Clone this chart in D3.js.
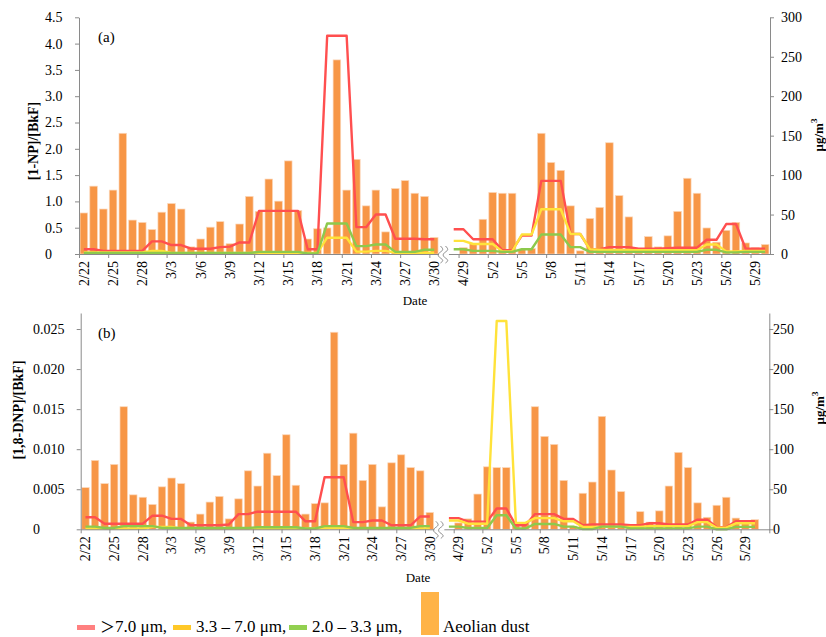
<!DOCTYPE html>
<html>
<head>
<meta charset="utf-8">
<script src="https://cdn.jsdelivr.net/npm/d3@7"></script>
<style>
  body { margin: 0; background: #fff; }
  svg text { fill: #000; }
</style>
</head>
<body>
<svg id="chart" width="826" height="637" font-family="Liberation Serif, DejaVu Serif, serif"></svg>
<script>
// sampling days, two campaigns
const datesLeft = ["2/22","2/23","2/24","2/25","2/26","2/27","2/28","3/1","3/2","3/3","3/4","3/5","3/6","3/7","3/8","3/9","3/10",
  "3/11","3/12","3/13","3/14","3/15","3/16","3/17","3/18","3/19","3/20","3/21","3/22","3/23","3/24","3/25","3/26","3/27","3/28","3/29","3/30"];
const datesRight = ["4/28","4/29","4/30","5/1","5/2","5/3","5/4","5/5","5/6","5/7","5/8","5/9","5/10","5/11","5/12","5/13","5/14",
  "5/15","5/16","5/17","5/18","5/19","5/20","5/21","5/22","5/23","5/24","5/25","5/26","5/27","5/28","5/29","5/30"];

// aeolian dust, ug/m3
const dustLeft = [52,86,57,81,153,43,40,31,53,64,57,9,19,34,41,13,38,73,54,95,67,118,55,19,32,33,246,81,120,61,81,28,83,93,77,73,21];
const dustRight = [null,8,13,44,78,77,77,6,7,153,116,106,61,4,45,59,141,74,47,3,22,9,23,54,96,77,33,15,30,40,14,8,12];

// (a) [1-NP]/[BkF]
const npRedLeft = [0.09,0.09,0.06,0.06,0.06,0.06,0.06,0.24,0.24,0.17,0.17,0.10,0.10,0.10,0.13,0.14,0.22,0.22,0.82,0.82,0.82,0.82,0.82,
  0.09,0.09,4.15,4.15,4.15,0.51,0.51,0.75,0.75,0.29,0.29,0.29,0.28,0.28];
const npRedRight = [0.47,0.47,0.28,0.28,0.28,0.07,0.07,0.35,0.35,1.39,1.39,1.39,0.38,0.38,0.09,0.09,0.13,0.13,0.13,0.10,0.10,0.10,0.11,
  0.12,0.12,0.12,0.27,0.27,0.57,0.57,0.10,0.10,0.10];
const npYellowLeft = [0.03,0.03,0.03,0.03,0.03,0.03,0.03,0.06,0.06,0.02,0.02,0.02,0.02,0.02,0.02,0.02,0.02,0.02,0.02,0.02,0.02,0.02,0.02,
  0.02,0.02,0.31,0.31,0.31,0.045,0.045,0.06,0.06,0.025,0.025,0.025,0.025,0.025];
const npYellowRight = [0.25,0.25,0.19,0.19,0.19,0.05,0.05,0.37,0.37,0.85,0.85,0.85,0.38,0.38,0.09,0.08,0.07,0.07,0.07,0.07,0.07,0.07,0.07,
  0.07,0.07,0.07,0.18,0.18,0.05,0.05,0.06,0.06,0.06];
const npGreenLeft = [0.02,0.02,0.02,0.02,0.02,0.02,0.02,0.02,0.02,0.02,0.02,0.02,0.02,0.02,0.02,0.02,0.02,0.02,0.04,0.04,0.04,0.04,0.04,
  0.01,0.01,0.58,0.58,0.58,0.15,0.15,0.18,0.18,0.04,0.04,0.04,0.08,0.08];
const npGreenRight = [0.09,0.09,0.06,0.06,0.06,0.04,0.04,0.09,0.09,0.37,0.37,0.37,0.13,0.13,0.04,0.04,0.04,0.04,0.04,0.04,0.04,0.04,0.04,
  0.04,0.04,0.04,0.08,0.08,0.03,0.03,0.04,0.04,0.04];

// (b) [1,8-DNP]/[BkF]
const dnpRedLeft = [0.0015,0.0015,0.0007,0.0007,0.0007,0.0007,0.0007,0.0017,0.0017,0.0013,0.0013,0.0005,0.0005,0.0005,0.0005,0.0006,
  0.0019,0.0019,0.0022,0.0022,0.0022,0.0022,0.0022,0.001,0.001,0.0065,0.0065,0.0065,0.0009,0.0009,0.0011,0.0011,0.0005,0.0005,0.0005,0.0016,0.0016];
const dnpRedRight = [0.0014,0.0014,0.00096,0.00096,0.00096,0.0026,0.0026,0.0005,0.0005,0.0019,0.0019,0.0019,0.0013,0.0013,0.0005,
  0.0006,0.0006,0.0006,0.0006,0.0005,0.0005,0.00075,0.00075,0.0006,0.0006,0.0006,0.0012,0.0012,0.00025,0.00025,0.001,0.001,0.001];
const dnpYellowLeft = [0.0001,0.0001,0.0001,0.0001,0.0001,0.0001,0.0001,0.0003,0.0003,0.0003,0.0001,0.0001,0.0001,0.0001,0.0001,0.0001,
  0.0001,0.0001,0.0001,0.0001,0.0001,0.0001,0.0001,0.0001,0.0001,0.00015,0.00015,0.00015,0.0001,0.0001,0.0001,0.0001,0.0001,0.0001,0.0001,0.0001,0.0001];
const dnpYellowRight = [0.0011,0.0011,0.0007,0.0007,0.0007,0.026,0.026,0.0008,0.0008,0.0014,0.0014,0.0014,0.001,0.001,0.0003,0.0003,
  0.0003,0.0003,0.0003,0.0003,0.0003,0.0004,0.0004,0.0004,0.0004,0.0004,0.0009,0.0009,0.0002,0.0002,0.00075,0.00075,0.00075];
const dnpGreenLeft = [0.00033,0.00033,0.00017,0.00017,0.0004,0.0004,0.0004,0.0004,0.00017,0.00017,0.00017,0.00017,0.00017,0.00017,
  0.00017,0.00017,0.00017,0.00017,0.00025,0.00025,0.00025,0.00025,0.00025,0.0001,0.0001,0.0004,0.0004,0.0004,0.00017,0.00017,0.00017,
  0.00017,0.00017,0.00017,0.00017,0.0004,0.0004];
const dnpGreenRight = [0.00033,0.00033,0.00017,0.00017,0.00017,0.00175,0.00175,0.0001,0.0001,0.00067,0.00067,0.00067,0.00033,0.00033,
  0.00002,0.00002,0.00033,0.00033,0.00033,0.00012,0.00012,0.00012,0.00012,0.00012,0.00012,0.00012,0.00033,0.00033,0,0,0.0003,0.0003,0.0003];

const npTicks = [0,0.5,1,1.5,2,2.5,3,3.5,4,4.5];
const dnpTicks = [0,0.005,0.01,0.015,0.02,0.025];
const dustTicksA = [0,50,100,150,200,250,300];
const dustTicksB = [0,50,100,150,200,250];

const color = { red: "#FF4F4F", yellow: "#FFE23A", green: "#8DC94C", bar: "#F79646" };
const serif = "Liberation Serif, DejaVu Serif, serif";

const joinSeries = (l, r) => l.concat([null], r);
const keysA = datesLeft.concat(["gap"], datesRight);
const keysB = keysA.concat(["end"]);

const svg = d3.select("#chart");

function drawPanel(cfg) {
  const g = svg.append("g");
  const keys = cfg.keys;

  const x = d3.scaleBand().domain(keys).range([cfg.x0, cfg.x1]).paddingInner(0.22).paddingOuter(0.11);
  const xb = d3.scaleLinear().domain([0, keys.length]).range([cfg.x0, cfg.x1]);
  const yL = d3.scaleLinear().domain([0, cfg.leftMax]).range([cfg.y0, cfg.yTop]);
  const yR = d3.scaleLinear().domain([0, cfg.rightMax]).range([cfg.y0, cfg.yTop]);

  // dust bars
  const bars = keys.map((k, i) => ({ k: k, v: cfg.dust[i] })).filter(d => d.v != null);
  g.append("g").selectAll("rect")
    .data(bars)
    .join("rect")
    .attr("x", d => x(d.k))
    .attr("width", x.bandwidth())
    .attr("y", d => yR(d.v))
    .attr("height", d => yR(0) - yR(d.v))
    .attr("fill", color.bar)
    .attr("stroke", "#FBD7BA")
    .attr("stroke-width", 0.7);

  // ratio lines
  const line = d3.line()
    .defined(d => d.v != null)
    .x(d => x(d.k) + x.bandwidth() / 2)
    .y(d => yL(d.v));

  cfg.series.forEach(function (s) {
    g.append("path")
      .datum(keys.map((k, i) => ({ k: k, v: s.values[i] === undefined ? null : s.values[i] })))
      .attr("d", line)
      .attr("fill", "none")
      .attr("stroke", s.color)
      .attr("stroke-width", 2.4)
      .attr("stroke-linejoin", "round");
  });

  // x axis: tick marks every 3 days, labels centred on the day
  const axX = g.append("g")
    .attr("transform", `translate(0,${cfg.y0})`)
    .call(d3.axisBottom(xb).tickValues(d3.range(0, keys.length + 1, 3)).tickSize(4).tickSizeOuter(0).tickFormat(""));
  axX.selectAll("path, line").attr("stroke", "#8a8a8a");

  const labelKeys = keys.filter((k, i) => i % 3 === 0 && k.indexOf("/") > 0);
  const axLab = g.append("g")
    .attr("transform", `translate(0,${cfg.y0})`)
    .call(d3.axisBottom(x).tickValues(labelKeys).tickSize(0))
    .attr("font-size", 14)
    .attr("font-family", serif);
  axLab.select(".domain").remove();
  axLab.selectAll("text")
    .attr("transform", "rotate(-90)")
    .attr("x", -7)
    .attr("y", 0)
    .attr("dy", "0.35em")
    .attr("text-anchor", "end");

  // axis break
  const bx = x("gap") + x.bandwidth() / 2;
  g.append("rect").attr("x", bx - 5).attr("y", cfg.y0 - 1.5).attr("width", 10).attr("height", 3).attr("fill", "#fff");
  [-2.5, 2.5].forEach(function (o) {
    g.append("path")
      .attr("d", `M${bx + o - 1},${cfg.y0 - 8} c3,3 3,4 0,6 c-3,2 -3,4 0,6 c3,2 3,3 0,5`)
      .attr("fill", "none")
      .attr("stroke", "#8a8a8a")
      .attr("stroke-width", 1);
  });

  // left axis
  const axL = g.append("g")
    .attr("transform", `translate(${cfg.x0},0)`)
    .call(d3.axisLeft(yL).tickValues(cfg.leftTicks).tickSize(4).tickSizeOuter(0).tickFormat(cfg.leftFormat))
    .attr("font-size", 14)
    .attr("font-family", serif);
  axL.selectAll("path, line").attr("stroke", "#8a8a8a");
  axL.selectAll("text").attr("x", cfg.leftLabelX - cfg.x0).attr("text-anchor", "start");

  // right axis
  const axR = g.append("g")
    .attr("transform", `translate(${cfg.x1},0)`)
    .call(d3.axisRight(yR).tickValues(cfg.rightTicks).tickSize(4).tickSizeOuter(0))
    .attr("font-size", 14)
    .attr("font-family", serif);
  axR.selectAll("path, line").attr("stroke", "#8a8a8a");
  axR.selectAll("text").attr("x", cfg.rightLabelX - cfg.x1).attr("text-anchor", "start");

  // titles
  g.append("text")
    .attr("transform", `translate(${cfg.leftTitleX},${cfg.leftTitleY}) rotate(-90)`)
    .attr("text-anchor", "middle")
    .attr("dy", "0.35em")
    .attr("font-size", 14)
    .attr("font-weight", "bold")
    .text(cfg.leftTitle);

  const rt = g.append("text")
    .attr("transform", `translate(${cfg.rightTitleX},${cfg.rightTitleY}) rotate(-90)`)
    .attr("text-anchor", "middle")
    .attr("dy", "0.35em")
    .attr("font-size", 13)
    .attr("font-weight", "bold");
  rt.append("tspan").text("μg/m");
  rt.append("tspan").attr("font-size", 9).attr("dy", "-0.6em").text("3");

  g.append("text")
    .attr("x", cfg.dateX)
    .attr("y", cfg.dateY)
    .attr("text-anchor", "middle")
    .attr("font-size", 13)
    .text("Date");

  g.append("text")
    .attr("x", 98)
    .attr("y", cfg.yTop + 25)
    .attr("font-size", 15)
    .text(cfg.tag);
}

drawPanel({
  keys: keysA,
  x0: 79, x1: 770, yTop: 17.3, y0: 254,
  leftMax: 4.5, rightMax: 300,
  leftTicks: npTicks, rightTicks: dustTicksA,
  leftFormat: d => d === 0 ? "0" : d3.format(".1f")(d),
  leftLabelX: 45, rightLabelX: 781,
  dust: joinSeries(dustLeft, dustRight),
  series: [
    { color: color.red, values: joinSeries(npRedLeft, npRedRight) },
    { color: color.yellow, values: joinSeries(npYellowLeft, npYellowRight) },
    { color: color.green, values: joinSeries(npGreenLeft, npGreenRight) }
  ],
  leftTitle: "[1-NP]/[BkF]", leftTitleX: 33, leftTitleY: 141,
  rightTitleX: 818, rightTitleY: 135,
  dateX: 415, dateY: 305,
  tag: "(a)"
});

drawPanel({
  keys: keysB,
  x0: 80.7, x1: 769.3, yTop: 313, y0: 529.3,
  leftMax: 0.027, rightMax: 270,
  leftTicks: dnpTicks, rightTicks: dustTicksB,
  leftFormat: d => d === 0 ? "0" : d3.format(".3f")(d),
  leftLabelX: 33, rightLabelX: 773,
  dust: joinSeries(dustLeft, dustRight).concat([null]),
  series: [
    { color: color.red, values: joinSeries(dnpRedLeft, dnpRedRight) },
    { color: color.yellow, values: joinSeries(dnpYellowLeft, dnpYellowRight) },
    { color: color.green, values: joinSeries(dnpGreenLeft, dnpGreenRight) }
  ],
  leftTitle: "[1,8-DNP]/[BkF]", leftTitleX: 18, leftTitleY: 410,
  rightTitleX: 819, rightTitleY: 408,
  dateX: 418, dateY: 582,
  tag: "(b)"
});

// legend
const legendItems = [
  { label: "7.0 μm,", color: "#FF8080", gt: true },
  { label: "3.3 – 7.0 μm,", color: "#FFC828" },
  { label: "2.0 – 3.3 μm,", color: "#92D050" }
];
const legendX = [77, 173, 289];
const lg = svg.append("g");
legendItems.forEach(function (d, i) {
  lg.append("rect").attr("x", legendX[i]).attr("y", 625).attr("width", 18).attr("height", 5).attr("fill", d.color);
  const t = lg.append("text").attr("x", legendX[i] + 23).attr("y", 632).attr("font-size", 17);
  if (d.gt) t.append("tspan").attr("font-family", "Noto Sans CJK JP").attr("font-size", 15).text("＞");
  t.append("tspan").text(d.label);
});
lg.append("rect").attr("x", 421).attr("y", 592).attr("width", 18).attr("height", 43).attr("fill", "#FFB347");
lg.append("text").attr("x", 443).attr("y", 632).attr("font-size", 17).text("Aeolian dust");
</script>
</body>
</html>
